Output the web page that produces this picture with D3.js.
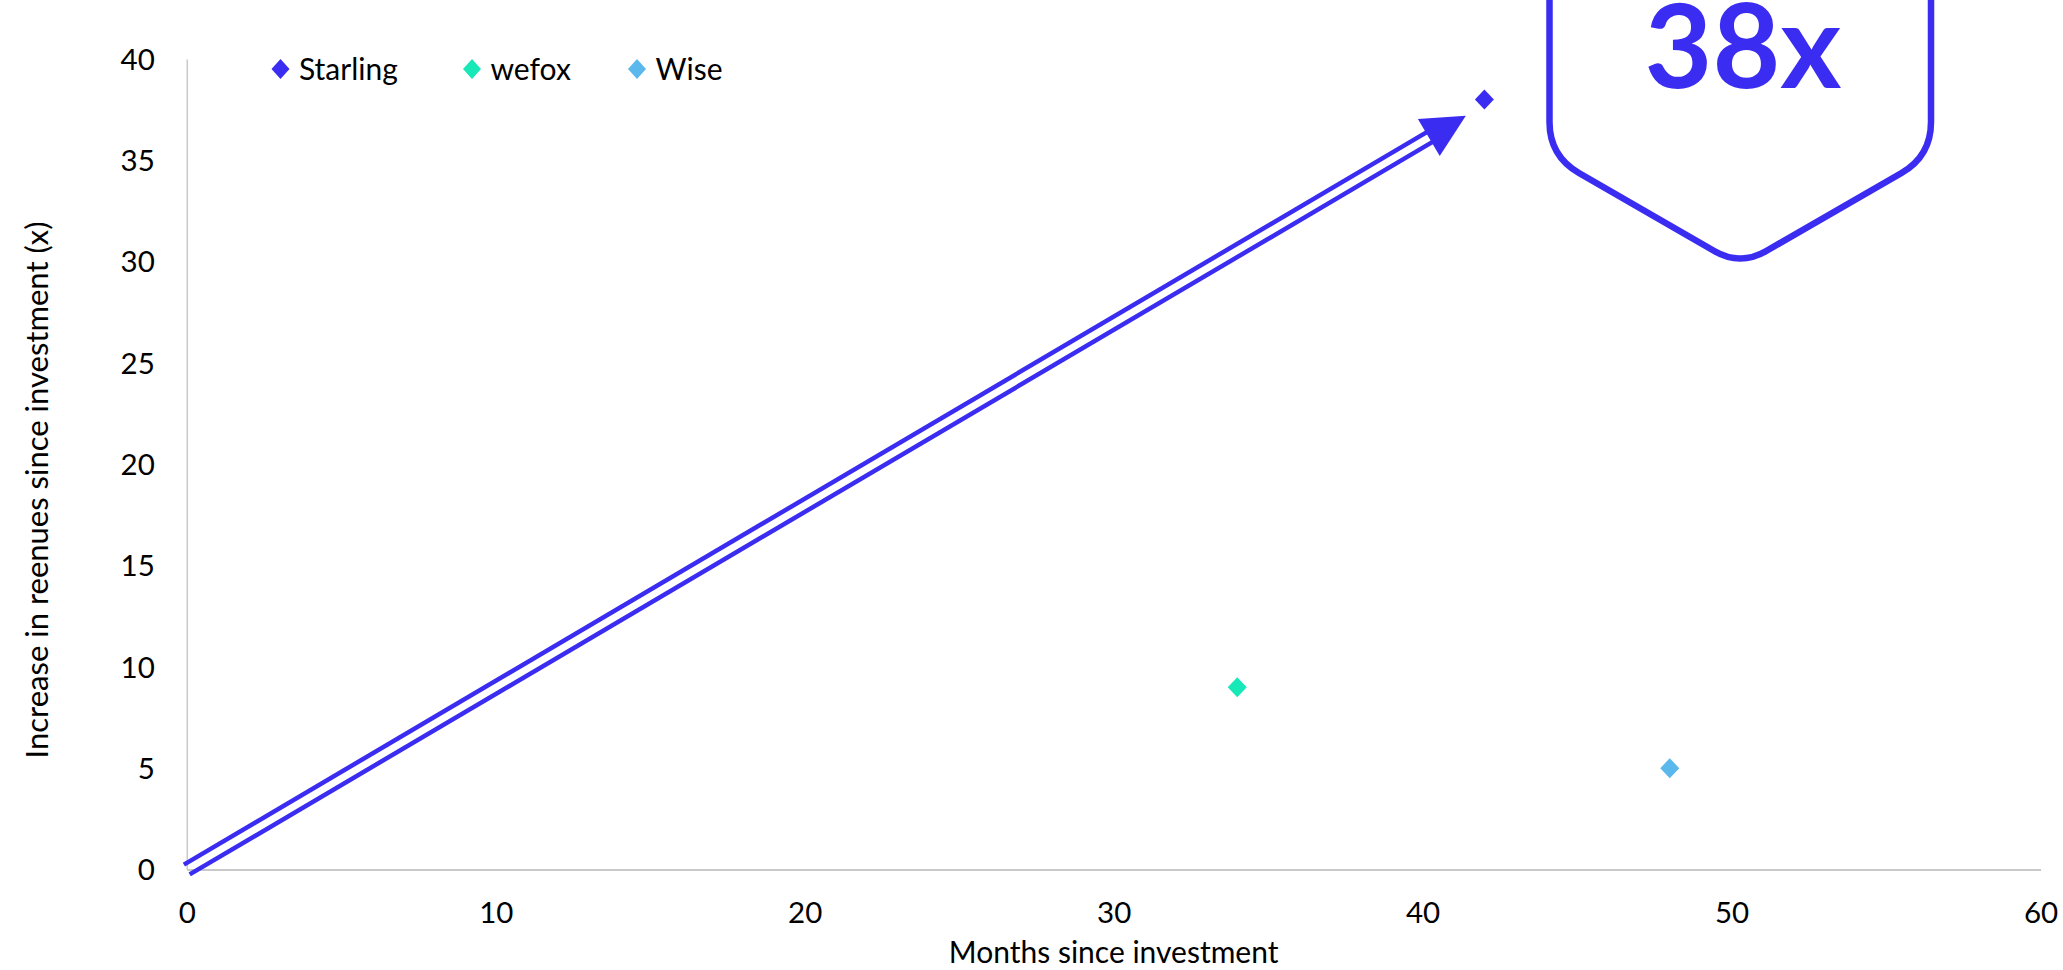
<!DOCTYPE html>
<html>
<head>
<meta charset="utf-8">
<script src="https://cdn.jsdelivr.net/npm/d3@7"></script>
<style>
  html, body { margin: 0; padding: 0; background: #ffffff; }
  svg { display: block; }
  text { font-family: Lato, "Noto Sans", sans-serif; fill: #000; }
</style>
</head>
<body>
<svg id="chart" width="2063" height="970"></svg>
<script>
// ---- data ----
const seriesNames = ["Starling", "wefox", "Wise"];
const monthsSinceInvestment = [42, 34, 48];
const revenueMultiple = [38, 9, 5];
const seriesColors = ["#3b2cf2", "#17e8b8", "#5bb8ec"];
const xTicks = [0, 10, 20, 30, 40, 50, 60];
const yTicks = [0, 5, 10, 15, 20, 25, 30, 35, 40];
const arrowStart = [0, 0];
const arrowTip = [41.4, 37.2];
const badgeLabel = "38x";
const xTitle = "Months since investment";
const yTitle = "Increase in reenues since investment (x)";

const svg = d3.select("#chart");
const m = { left: 186.8, right: 2040.5, top: 59, bottom: 869.5 };

const x = d3.scaleLinear().domain([0, 60]).range([m.left, m.right]);
const y = d3.scaleLinear().domain([0, 40]).range([m.bottom, m.top]);

const axisColor = "#c9c9c9";
const tickFont = 29.5;

// x axis
const gx = svg.append("g").attr("transform", `translate(0,${m.bottom})`)
  .call(d3.axisBottom(x).tickValues(xTicks).tickSize(0).tickPadding(0).tickFormat(d3.format("d")));
gx.select(".domain").attr("stroke", axisColor).attr("stroke-width", 2);
gx.selectAll(".tick text").attr("font-size", tickFont).attr("font-family", "Lato")
  .attr("fill", "#000").attr("y", 43).attr("dy", "0.35em");

// y axis
const gy = svg.append("g").attr("transform", `translate(${m.left},0)`)
  .call(d3.axisLeft(y).tickValues(yTicks).tickSize(0).tickPadding(0).tickFormat(d3.format("d")));
gy.select(".domain").attr("stroke", axisColor).attr("stroke-width", 1.5);
gy.selectAll(".tick text").attr("font-size", tickFont).attr("font-family", "Lato")
  .attr("fill", "#000").attr("x", -32).attr("dy", "0.35em");

// axis titles
svg.append("text").attr("x", (m.left + m.right) / 2).attr("y", 952).attr("dy", "0.35em")
  .attr("text-anchor", "middle").attr("font-size", 30).text(xTitle);
svg.append("text").attr("transform", "translate(37,490) rotate(-90)").attr("dy", "0.35em")
  .attr("text-anchor", "middle").attr("font-size", 31).text(yTitle);

// diamond path
function diamond(hw, hh) {
  return `M0,${-hh}L${hw},0L0,${hh}L${-hw},0Z`;
}

// arrow (double line + head)
const blue = seriesColors[0];
const sx = x(arrowStart[0]), sy = y(arrowStart[1]);
const tx = x(arrowTip[0]), ty = y(arrowTip[1]);
const len = Math.hypot(tx - sx, ty - sy);
const ux = (tx - sx) / len, uy = (ty - sy) / len;
const nx = -uy, ny = ux;
const headLen = 43, headHalf = 21.5;
const bx = tx - ux * headLen, by = ty - uy * headLen;
const off = 5.7;
[-1, 1].forEach(s => {
  svg.append("line")
    .attr("x1", sx + nx * off * s).attr("y1", sy + ny * off * s)
    .attr("x2", bx + ux * 6 + nx * off * s).attr("y2", by + uy * 6 + ny * off * s)
    .attr("stroke", blue).attr("stroke-width", 4.5).attr("stroke-linecap", "butt");
});
svg.append("path")
  .attr("d", `M${tx},${ty}L${bx + nx * headHalf},${by + ny * headHalf}L${bx - nx * headHalf},${by - ny * headHalf}Z`)
  .attr("fill", blue);

// data points
svg.append("g").selectAll("path").data(seriesNames).join("path")
  .attr("d", diamond(9.5, 10))
  .attr("transform", (d, i) => `translate(${x(monthsSinceInvestment[i])},${y(revenueMultiple[i])})`)
  .attr("fill", (d, i) => seriesColors[i]);

// legend
const legendX = [280.5, 472, 637];
const lg = svg.append("g");
seriesNames.forEach((name, i) => {
  lg.append("path").attr("d", diamond(9, 10))
    .attr("transform", `translate(${legendX[i]},69)`).attr("fill", seriesColors[i]);
  lg.append("text").attr("x", legendX[i] + 18.5).attr("y", 69).attr("dy", "0.35em")
    .attr("font-size", 30).text(name);
});

// badge
const L = 1549.5, R = 1931, cx = (L + R) / 2, cornerY = 156, bottomY = 266, topY = -60;
function lerp(a, b, t) { return [a[0] + (b[0] - a[0]) * t, a[1] + (b[1] - a[1]) * t]; }
const pTL = [L, topY], pBL = [L, cornerY], pB = [cx, bottomY], pBR = [R, cornerY], pTR = [R, topY];
function roundCorner(prev, c, next, r) {
  const d1 = Math.hypot(prev[0] - c[0], prev[1] - c[1]);
  const d2 = Math.hypot(next[0] - c[0], next[1] - c[1]);
  const a = lerp(c, prev, r / d1), b = lerp(c, next, r / d2);
  return `L${a[0]},${a[1]}Q${c[0]},${c[1]} ${b[0]},${b[1]}`;
}
const badgePath = `M${pTL[0]},${pTL[1]}` +
  roundCorner(pTL, pBL, pB, 34) +
  roundCorner(pBL, pB, pBR, 30) +
  roundCorner(pB, pBR, pTR, 34) +
  `L${pTR[0]},${pTR[1]}`;
svg.append("path").attr("d", badgePath).attr("fill", "none")
  .attr("stroke", blue).attr("stroke-width", 6.5).attr("stroke-linejoin", "round");
svg.append("text").attr("x", 1743).attr("y", 87.5).attr("text-anchor", "middle")
  .attr("font-size", 117).attr("font-weight", 700).attr("fill", blue)
  .style("fill", blue).text(badgeLabel);
</script>
</body>
</html>
